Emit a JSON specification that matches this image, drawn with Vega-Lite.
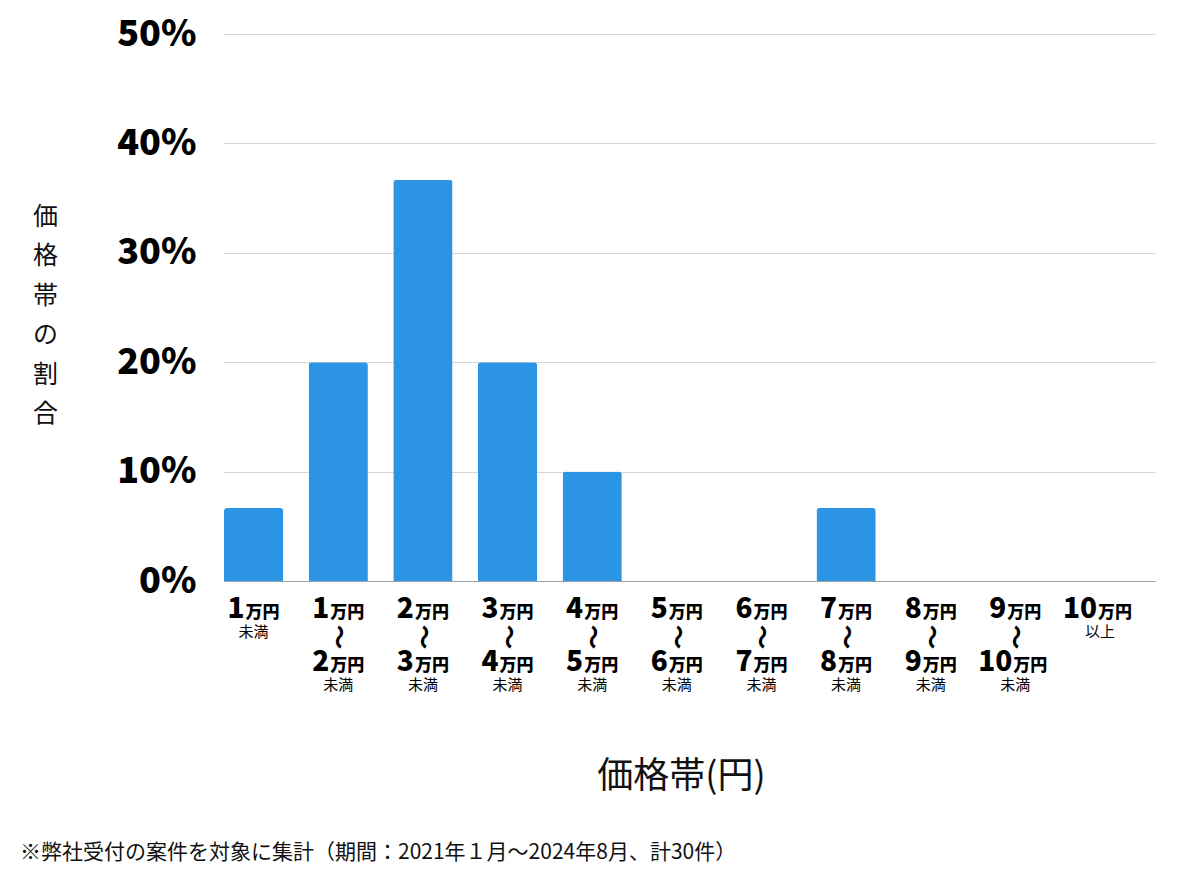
{
  "$schema": "https://vega.github.io/schema/vega-lite/v6.json",
  "width": 931,
  "height": 547,
  "autosize": {"type": "none"},
  "padding": {"left": 224, "top": 34, "right": 45, "bottom": 293},
  "background": "white",
  "title": {
    "text": "※弊社受付の案件を対象に集計（期間：2021年１月〜2024年8月、計30件）",
    "orient": "bottom",
    "anchor": "start",
    "frame": "group",
    "dx": -204,
    "offset": 48,
    "fontSize": 21,
    "fontWeight": "normal",
    "color": "#111"
  },
  "config": {
    "font": "Noto Sans CJK JP",
    "view": {"stroke": null}
  },
  "data": {
    "values": [
      {"band": "1万円未満", "from": "1", "to": "", "note": "未満", "pct": 6.67},
      {"band": "1万円〜2万円未満", "from": "1", "to": "2", "note": "未満", "pct": 20},
      {"band": "2万円〜3万円未満", "from": "2", "to": "3", "note": "未満", "pct": 36.67},
      {"band": "3万円〜4万円未満", "from": "3", "to": "4", "note": "未満", "pct": 20},
      {"band": "4万円〜5万円未満", "from": "4", "to": "5", "note": "未満", "pct": 10},
      {"band": "5万円〜6万円未満", "from": "5", "to": "6", "note": "未満", "pct": 0},
      {"band": "6万円〜7万円未満", "from": "6", "to": "7", "note": "未満", "pct": 0},
      {"band": "7万円〜8万円未満", "from": "7", "to": "8", "note": "未満", "pct": 6.67},
      {"band": "8万円〜9万円未満", "from": "8", "to": "9", "note": "未満", "pct": 0},
      {"band": "9万円〜10万円未満", "from": "9", "to": "10", "note": "未満", "pct": 0},
      {"band": "10万円以上", "from": "10", "to": "", "note": "以上", "pct": 0}
    ]
  },
  "encoding": {
    "x": {
      "field": "band",
      "type": "nominal",
      "sort": null,
      "scale": {"paddingInner": 0.3, "paddingOuter": 0.15, "align": 0},
      "axis": {
        "labels": false,
        "ticks": false,
        "domain": true,
        "domainColor": "#9e9e9e",
        "domainWidth": 1,
        "grid": false,
        "title": "価格帯(円)",
        "titleFontSize": 36,
        "titleFontWeight": "normal",
        "titleColor": "#111",
        "titleX": 457,
        "titleY": 195,
        "titleBaseline": "middle",
        "titleAlign": "center"
      }
    }
  },
  "layer": [
    {
      "mark": {"type": "bar", "color": "#2b94e4", "cornerRadiusTopLeft": 3, "cornerRadiusTopRight": 3},
      "encoding": {
        "y": {
          "field": "pct",
          "type": "quantitative",
          "scale": {"domain": [0, 50], "nice": false},
          "axis": {
            "values": [0, 10, 20, 30, 40, 50],
            "labelExpr": "datum.value + '%'",
            "labelFontSize": 36,
            "labelFontWeight": 900,
            "labelColor": "#000",
            "labelPadding": 28,
            "ticks": false,
            "domain": false,
            "grid": true,
            "gridColor": "#d6d6d6",
            "gridWidth": 1,
            "title": ["価", "格", "帯", "の", "割", "合"],
            "titleAngle": 0,
            "titleFontSize": 25,
            "titleFontWeight": "normal",
            "titleColor": "#111",
            "titleLineHeight": 39.5,
            "titleX": -179,
            "titleY": 182,
            "titleAlign": "center",
            "titleBaseline": "middle"
          }
        }
      }
    },
    {
      "transform": [{"filter": "length(datum.from) == 1"}],
      "mark": {"type": "text", "align": "right", "baseline": "alphabetic", "dx": -9, "dy": 37, "fontSize": 28, "fontWeight": 900, "color": "#000"},
      "encoding": {"y": {"datum": 0}, "text": {"field": "from"}}
    },
    {
      "transform": [{"filter": "length(datum.from) == 2"}],
      "mark": {"type": "text", "align": "right", "baseline": "alphabetic", "dx": -3, "dy": 37, "fontSize": 28, "fontWeight": 900, "color": "#000"},
      "encoding": {"y": {"datum": 0}, "text": {"field": "from"}}
    },
    {
      "transform": [{"filter": "length(datum.from) == 1"}],
      "mark": {"type": "text", "align": "left", "baseline": "alphabetic", "dx": -8, "dy": 37, "fontSize": 17, "fontWeight": 900, "color": "#000"},
      "encoding": {"y": {"datum": 0}, "text": {"value": "万円"}}
    },
    {
      "transform": [{"filter": "length(datum.from) == 2"}],
      "mark": {"type": "text", "align": "left", "baseline": "alphabetic", "dx": -2, "dy": 37, "fontSize": 17, "fontWeight": 900, "color": "#000"},
      "encoding": {"y": {"datum": 0}, "text": {"value": "万円"}}
    },
    {
      "transform": [{"filter": "datum.to != ''"}],
      "mark": {"type": "text", "align": "center", "baseline": "middle", "angle": 90, "dx": 56, "dy": 0, "fontSize": 25, "fontWeight": "bold", "color": "#000"},
      "encoding": {"y": {"datum": 0}, "text": {"value": "〜"}}
    },
    {
      "transform": [{"filter": "length(datum.to) == 1"}],
      "mark": {"type": "text", "align": "right", "baseline": "alphabetic", "dx": -9, "dy": 90, "fontSize": 28, "fontWeight": 900, "color": "#000"},
      "encoding": {"y": {"datum": 0}, "text": {"field": "to"}}
    },
    {
      "transform": [{"filter": "length(datum.to) == 2"}],
      "mark": {"type": "text", "align": "right", "baseline": "alphabetic", "dx": -3, "dy": 90, "fontSize": 28, "fontWeight": 900, "color": "#000"},
      "encoding": {"y": {"datum": 0}, "text": {"field": "to"}}
    },
    {
      "transform": [{"filter": "length(datum.to) == 1"}],
      "mark": {"type": "text", "align": "left", "baseline": "alphabetic", "dx": -8, "dy": 90, "fontSize": 17, "fontWeight": 900, "color": "#000"},
      "encoding": {"y": {"datum": 0}, "text": {"value": "万円"}}
    },
    {
      "transform": [{"filter": "length(datum.to) == 2"}],
      "mark": {"type": "text", "align": "left", "baseline": "alphabetic", "dx": -2, "dy": 90, "fontSize": 17, "fontWeight": 900, "color": "#000"},
      "encoding": {"y": {"datum": 0}, "text": {"value": "万円"}}
    },
    {
      "transform": [{"filter": "datum.to == ''"}],
      "mark": {"type": "text", "align": "center", "baseline": "middle", "dy": 51, "fontSize": 15, "color": "#000"},
      "encoding": {"y": {"datum": 0}, "text": {"field": "note"}}
    },
    {
      "transform": [{"filter": "datum.to != ''"}],
      "mark": {"type": "text", "align": "center", "baseline": "middle", "dy": 104, "fontSize": 15, "color": "#000"},
      "encoding": {"y": {"datum": 0}, "text": {"field": "note"}}
    }
  ]
}
